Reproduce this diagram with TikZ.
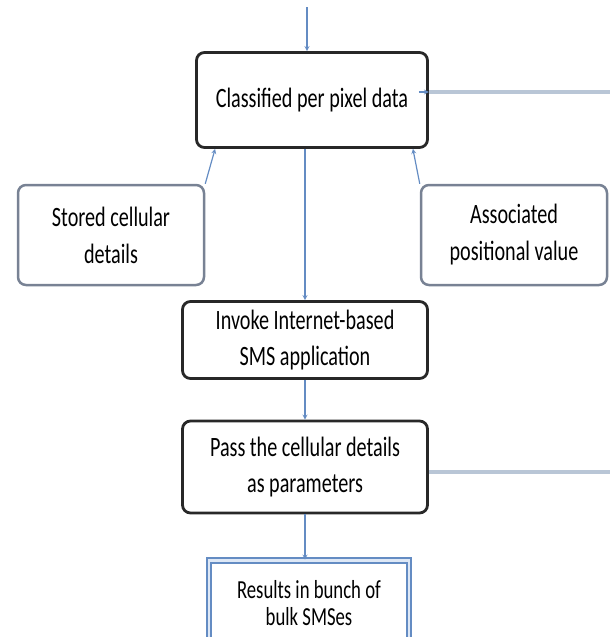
\documentclass[tikz,border=0pt]{standalone}
\usepackage{fontspec}
\setmainfont{Carlito}[FakeStretch=0.72]
\usepackage{tikz}
\usetikzlibrary{arrows,shapes,positioning}
\usepackage{xcolor}
\definecolor{fcline}{RGB}{100,140,195}
\definecolor{fcpale}{RGB}{185,198,214}
\definecolor{fcgrey}{RGB}{120,130,148}
\definecolor{fcdark}{RGB}{40,40,40}
\definecolor{fcfill}{RGB}{222,232,246}
\tikzstyle{arrow} = [line width=1.2pt,->,>=stealth,color=fcline]
\tikzstyle{loopline} = [line width=3.5pt,color=fcpale]
\tikzstyle{process} = [rectangle, rounded corners=8pt, minimum width=245pt, align=center, draw=fcdark, line width=2.8pt, fill=white, font=\fontsize{28pt}{36pt}\selectfont]
\tikzstyle{source} = [rectangle, rounded corners=8pt, minimum width=186pt, minimum height=100pt, align=center, draw=fcgrey, line width=2.5pt, fill=white, font=\fontsize{28pt}{37pt}\selectfont]
\tikzstyle{result} = [rectangle, minimum width=200pt, minimum height=85pt, align=center, draw=fcline, double=fcfill, double distance=2.5pt, line width=1.8pt, fill=white, font=\fontsize{26pt}{27pt}\selectfont]

\begin{document}
\begin{tikzpicture}[x=1pt,y=-1pt]
\useasboundingbox (0,0) rectangle (610,637);
% Main chain
\node (classified) [process, minimum width=231pt, minimum height=95pt] at (312,100) {Classified per pixel data};
\node (invoke) [process, minimum height=77pt] at (305,340) {Invoke Internet-based\\SMS application};
\node (pass) [process, minimum height=92pt, below of=invoke, node distance=127pt] {Pass the cellular details\\as parameters};
\node (results) [result, below of=pass, node distance=136pt, xshift=4pt] {Results in bunch of\\bulk SMSes};

% Side inputs
\node (stored) [source] at (111,235) {Stored cellular\\details};
\node (assoc) [source] at (514,235) {Associated\\positional value};

% Free ends
\coordinate (topin) at (307,7);
\coordinate (loopin) at (612,92);
\coordinate (loopout) at (612,472);

\draw[arrow] (topin) -- (topin |- classified.north);
\draw[loopline] (loopin) -- (classified.east |- loopin);
\draw[arrow] ([xshift=-10pt]classified.east |- loopin) -- (classified.east |- loopin);
\draw[arrow] (stored.north east) -- ([xshift=20pt]classified.south west);
\draw[arrow] (assoc.north west) -- ([xshift=-16pt]classified.south east);
\draw[arrow] (invoke.north |- classified.south) -- (invoke.north);
\draw[arrow] (invoke) -- (pass);
\draw[arrow] (pass.south) -- (pass.south |- results.north);
\draw[loopline] (pass.east |- loopout) -- (loopout);
\end{tikzpicture}
\end{document}
